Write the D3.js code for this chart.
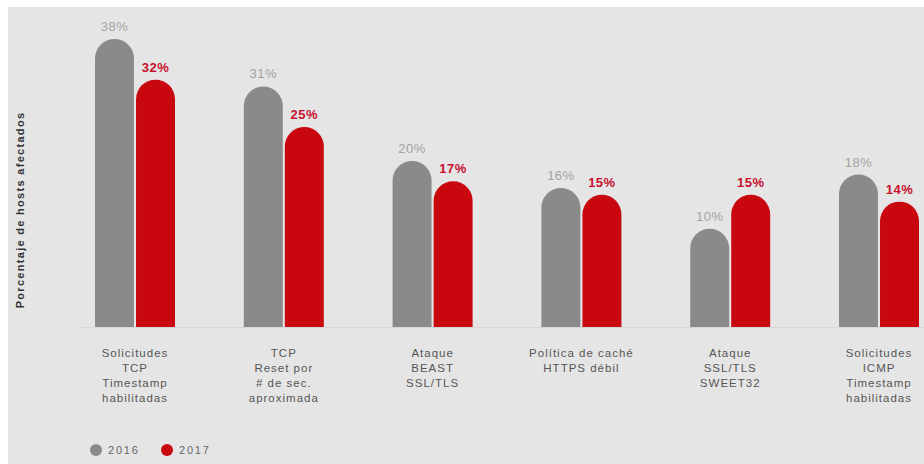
<!DOCTYPE html>
<html>
<head>
<meta charset="utf-8">
<script src="https://cdn.jsdelivr.net/npm/d3@7"></script>
<style>
  html, body { margin: 0; padding: 0; background: #ffffff; }
  svg { display: block; font-family: "Liberation Sans", Arial, sans-serif; }
</style>
</head>
<body>
<svg id="chart" width="924" height="464"></svg>
<script>
// Vulnerabilities found on hosts, share of hosts affected per year
const categories = [
  "Solicitudes\nTCP\nTimestamp\nhabilitadas",
  "TCP\nReset por\n# de sec.\naproximada",
  "Ataque\nBEAST\nSSL/TLS",
  "Política de caché\nHTTPS débil",
  "Ataque\nSSL/TLS\nSWEET32",
  "Solicitudes\nICMP\nTimestamp\nhabilitadas"
];
const years = ["2016", "2017"];
const values2016 = [38, 31, 20, 16, 10, 18];
const values2017 = [32, 25, 17, 15, 15, 14];
const yTitle = "Porcentaje de hosts afectados";

const colors = { "2016": "#8a8a8a", "2017": "#c8070f" };
const labelColors = { "2016": "#a3a3a3", "2017": "#c8102e" };

const rows = categories.map((c, i) => ({
  cat: c,
  vals: [{ year: "2016", v: values2016[i] }, { year: "2017", v: values2017[i] }]
}));

const svg = d3.select("#chart");

// panel background
svg.append("rect").attr("x", 8).attr("y", 7).attr("width", 916).attr("height", 457)
  .attr("fill", "#e5e5e5");

const x = d3.scalePoint().domain(categories).range([135, 879]);
const xi = d3.scaleBand().domain(years).range([-40, 40]).paddingInner(0.05);
const y = d3.scaleLinear().domain([-4.5, 38]).range([327, 39]);
const base = y.range()[0];

// baseline
svg.append("line").attr("x1", 80).attr("x2", 924).attr("y1", base + 0.5).attr("y2", base + 0.5)
  .attr("stroke", "#d6d6d6").attr("stroke-width", 1);

function barPath(x0, w, yTop) {
  const r = w / 2;
  return `M${x0},${base}V${yTop + r}A${r},${r} 0 0 1 ${x0 + w},${yTop + r}V${base}Z`;
}

const groups = svg.append("g").selectAll("g").data(rows).join("g")
  .attr("transform", d => `translate(${x(d.cat)},0)`);

groups.selectAll("path").data(d => d.vals).join("path")
  .attr("d", d => barPath(xi(d.year), xi.bandwidth(), y(d.v)))
  .attr("fill", d => colors[d.year]);

groups.selectAll("text.val").data(d => d.vals).join("text")
  .attr("class", "val")
  .attr("x", d => xi(d.year) + xi.bandwidth() / 2)
  .attr("y", d => y(d.v) - 8)
  .attr("text-anchor", "middle")
  .attr("font-size", 13)
  .attr("letter-spacing", 0.5)
  .attr("font-weight", d => d.year === "2017" ? "bold" : "normal")
  .attr("fill", d => labelColors[d.year])
  .text(d => d.v + "%");

// category labels
groups.append("text")
  .attr("text-anchor", "middle")
  .attr("font-size", 11.5)
  .attr("letter-spacing", 1)
  .attr("fill", "#555555")
  .selectAll("tspan").data(d => d.cat.split("\n")).join("tspan")
  .attr("x", 0)
  .attr("y", (d, i) => 357 + i * 15)
  .text(d => d);

// y axis title
svg.append("text")
  .attr("transform", "translate(24,210) rotate(-90)")
  .attr("text-anchor", "middle")
  .attr("font-size", 11)
  .attr("font-weight", "bold")
  .attr("letter-spacing", 1.3)
  .attr("fill", "#333333")
  .text(yTitle);

// legend
const legend = svg.append("g").selectAll("g").data(years).join("g")
  .attr("transform", (d, i) => `translate(${96 + i * 71},450)`);
legend.append("circle").attr("r", 6).attr("fill", d => colors[d]);
legend.append("text").attr("x", 12).attr("y", 4)
  .attr("font-size", 11).attr("letter-spacing", 1.8).attr("fill", "#666666")
  .text(d => d);
</script>
</body>
</html>
